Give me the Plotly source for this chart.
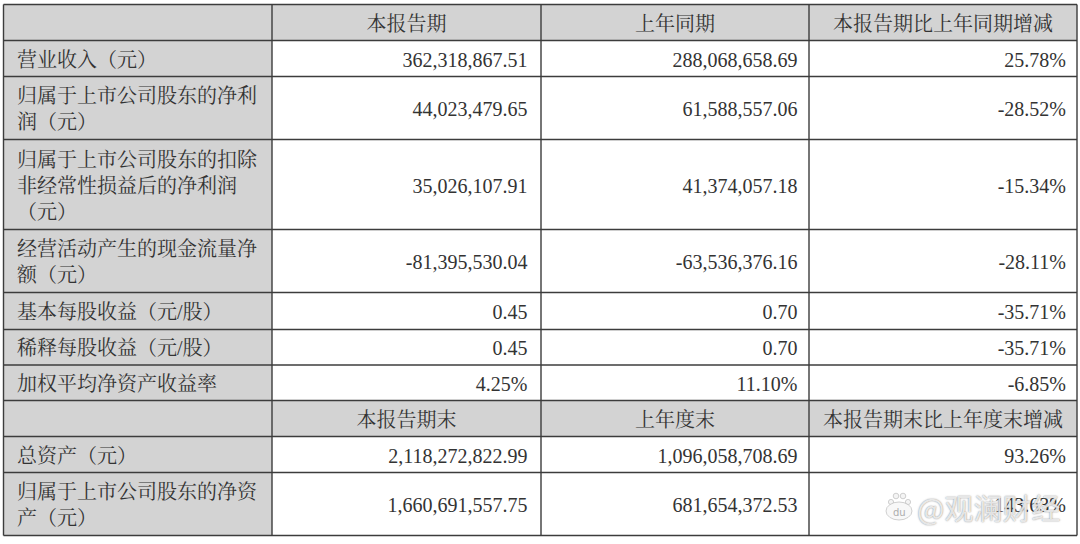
import plotly.graph_objects as go

row_labels = ["营业收入（元）", "归属于上市公司股东的净利<br>润（元）",
              "归属于上市公司股东的扣除<br>非经常性损益后的净利润<br>（元）",
              "经营活动产生的现金流量净<br>额（元）", "基本每股收益（元/股）", "稀释每股收益（元/股）",
              "加权平均净资产收益率"]
current = ["362,318,867.51", "44,023,479.65", "35,026,107.91", "-81,395,530.04", "0.45", "0.45", "4.25%"]
prior = ["288,068,658.69", "61,588,557.06", "41,374,057.18", "-63,536,376.16", "0.70", "0.70", "11.10%"]
change = ["25.78%", "-28.52%", "-15.34%", "-28.11%", "-35.71%", "-35.71%", "-6.85%"]
header_top = ["本报告期", "上年同期", "本报告期比上年同期增减"]

bottom_labels = ["总资产（元）", "归属于上市公司股东的净资<br>产（元）"]
bottom_current = ["2,118,272,822.99", "1,660,691,557.75"]
bottom_prior = ["1,096,058,708.69", "681,654,372.53"]
bottom_change = ["93.26%", "143.63%"]
header_bottom = ["本报告期末", "上年度末", "本报告期末比上年度末增减"]

watermark = "@观澜财经"

# Table geometry (pixels of the 1080x544 page)
col_edges = [3.5, 272, 541, 809, 1077]
row_edges = [4.5, 40.5, 76.5, 139.5, 229.5, 292.5, 329.5, 365, 400.5, 436.5, 472.5, 535.5]
num_right = {1: 527.5, 2: 797.5, 3: 1066}
TEXT_DY = 3
FONT = "Liberation Serif, Noto Serif CJK SC, Noto Sans CJK SC, serif"
INK = "#333333"
GREY = "#d3d3d3"
LINE = "#3c3c3c"

rows = [("h", header_top)] + \
       [("d", (row_labels[i], current[i], prior[i], change[i])) for i in range(len(row_labels))] + \
       [("h", header_bottom)] + \
       [("d", (bottom_labels[i], bottom_current[i], bottom_prior[i], bottom_change[i])) for i in range(len(bottom_labels))]

shapes = []
# grey label column and header bands
shapes.append(dict(type="rect", x0=col_edges[0], x1=col_edges[1], y0=row_edges[0], y1=row_edges[-1],
                   fillcolor=GREY, line_width=0, layer="below"))
for i, (kind, _) in enumerate(rows):
    if kind == "h":
        shapes.append(dict(type="rect", x0=col_edges[0], x1=col_edges[-1], y0=row_edges[i], y1=row_edges[i + 1],
                           fillcolor=GREY, line_width=0, layer="below"))
for y in row_edges:
    shapes.append(dict(type="line", x0=col_edges[0], x1=col_edges[-1], y0=y, y1=y,
                       line=dict(color=LINE, width=1.4), layer="below"))
for x in col_edges:
    shapes.append(dict(type="line", x0=x, x1=x, y0=row_edges[0], y1=row_edges[-1],
                       line=dict(color=LINE, width=1.4), layer="below"))

fig = go.Figure()


def add_text(xs, ys, texts, pos, size):
    fig.add_trace(go.Scatter(x=xs, y=ys, text=texts, mode="text", textposition=pos,
                             textfont=dict(family=FONT, size=size, color=INK),
                             hoverinfo="skip", showlegend=False, cliponaxis=False))


label_x, label_y, label_t = [], [], []
head_x, head_y, head_t = [], [], []
num = {c: ([], [], []) for c in (1, 2, 3)}
for i, (kind, cells) in enumerate(rows):
    yc = (row_edges[i] + row_edges[i + 1]) / 2 + TEXT_DY
    if kind == "h":
        for c, t in enumerate(cells, start=1):
            head_x.append((col_edges[c] + col_edges[c + 1]) / 2)
            head_y.append(yc)
            head_t.append(t)
    else:
        label_x.append(col_edges[0] + 13.5)
        label_y.append(yc)
        label_t.append(cells[0])
        for c in (1, 2, 3):
            num[c][0].append(num_right[c])
            num[c][1].append(yc)
            num[c][2].append(cells[c])

add_text(label_x, label_y, label_t, "middle right", 20)
add_text(head_x, head_y, head_t, "middle center", 20)
for c in (1, 2, 3):
    add_text(num[c][0], num[c][1], num[c][2], "middle left", 20)

# Watermark paw
paw = [(891, 502, 2.6), (896, 496, 2.8), (903, 496, 2.8), (908, 502, 2.6)]
for x, y, r in paw:
    shapes.append(dict(type="circle", x0=x - r, x1=x + r, y0=y - r, y1=y + r,
                       fillcolor="#f4f4f4", line=dict(color="#c4c4c4", width=0.8)))
shapes.append(dict(type="circle", x0=886, x1=912, y0=502, y1=520,
                   fillcolor="#f8f8f8", line=dict(color="#c4c4c4", width=0.8)))

annotations = [
    dict(x=899, y=512, text="du", showarrow=False, xref="x", yref="y",
         font=dict(family="DejaVu Sans", size=10, color="#adadad")),
    dict(x=915, y=507, text=watermark, showarrow=False, xref="x", yref="y", xanchor="left",
         font=dict(family="Noto Sans CJK SC", size=29, color="rgba(255,255,255,0.8)",
                   shadow="0px 0px 1.5px #555555")),
]

fig.update_layout(
    width=1080, height=544, margin=dict(l=0, r=0, t=0, b=0),
    paper_bgcolor="white", plot_bgcolor="white",
    xaxis=dict(range=[0, 1080], visible=False, fixedrange=True),
    yaxis=dict(range=[544, 0], visible=False, fixedrange=True),
    shapes=shapes, annotations=annotations, showlegend=False,
)
fig.write_html("out.html", config=dict(displayModeBar=False),
               post_script="document.body.style.margin='0';document.body.style.overflow='hidden';")
